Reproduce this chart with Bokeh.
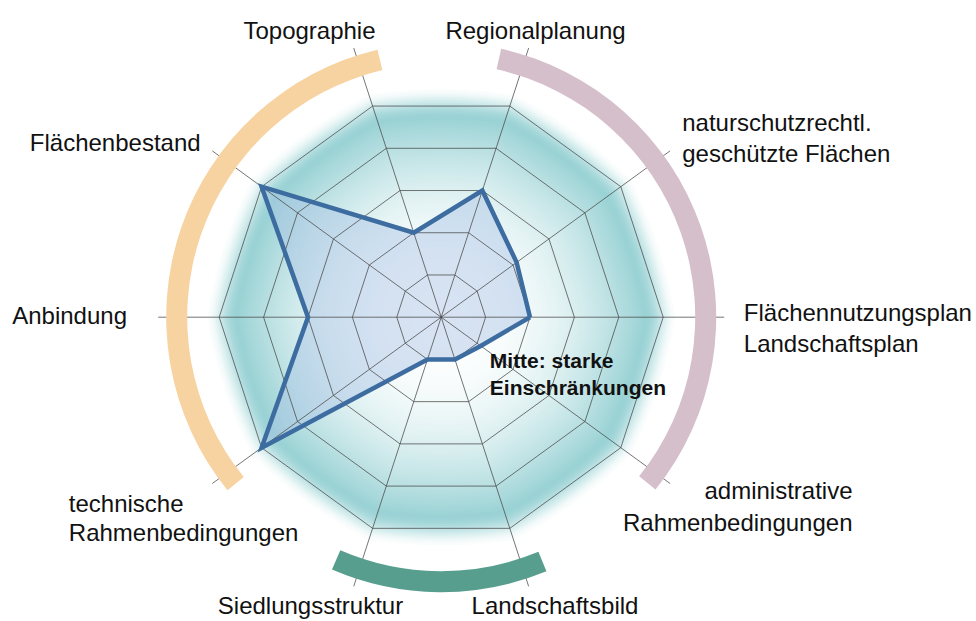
import numpy as np
from bokeh.plotting import figure
from bokeh.models import Range1d
from bokeh.embed import file_html
from bokeh.resources import INLINE
from bokeh.core.properties import value

# ---------------- data ----------------
categories = ["Flächennutzungsplan / Landschaftsplan", "naturschutzrechtl. geschützte Flächen",
              "Regionalplanung", "Topographie", "Flächenbestand", "Anbindung",
              "technische Rahmenbedingungen", "Siedlungsstruktur", "Landschaftsbild",
              "administrative Rahmenbedingungen"]
axis_angles_deg = [0, 36, 72, 108, 144, 180, 216, 252, 288, 324]
values = [2.0, 2.1, 3.0, 2.0, 5.0, 3.0, 5.0, 1.0, 1.0, 1.1]
levels = [1, 2, 3, 4, 5]
max_level = 5

# group arcs (start/end angle in degrees)
group_names = ["Standort", "Planung", "Umfeld"]
group_start = [103.4, -38.8, -113.4]
group_end = [219.0, 77.4, -67.5]
group_colors = ["#F8D3A2", "#D4BFCB", "#579E8F"]

# label texts (lines)
label_lines = [
    ["Flächennutzungsplan", "Landschaftsplan"],
    ["naturschutzrechtl.", "geschützte Flächen"],
    ["Regionalplanung"],
    ["Topographie"],
    ["Flächenbestand"],
    ["Anbindung"],
    ["technische", "Rahmenbedingungen"],
    ["Siedlungsstruktur"],
    ["Landschaftsbild"],
    ["administrative", "Rahmenbedingungen"],
]
center_note = ["Mitte: starke", "Einschränkungen"]

# ---------------- layout ----------------
W, H = 976, 621
CX, CY = 440.7, 316.7          # centre in page pixels
STEP = 44.4                     # radius per level (px)
SPOKE_LEN = 283
ARC_IN, ARC_OUT = 254, 275

# label anchors (x, first baseline, align, line gap)
label_layout = [
    (302.6, 5.0, "left", 31.6),
    (241.0, 194.4, "left", 31.0),
    (94.3, 286.7, "center", 0),
    (-131.7, 286.7, "center", 0),
    (-411.4, 175.0, "left", 0),
    (-429.0, 1.7, "left", 0),
    (-372.4, -186.6, "left", 28.4),
    (-130.7, -288.5, "center", 0),
    (113.8, -288.5, "center", 0),
    (411.3, -173.3, "right", 31.7),
]

p = figure(width=W, height=H, output_backend="svg", toolbar_location=None,
           x_range=Range1d(-CX, W - CX), y_range=Range1d(-(H - CY), CY),
           x_axis_type=None, y_axis_type=None, min_border=0,
           background_fill_color="white", border_fill_color="white")
p.outline_line_color = None
p.grid.visible = False

ang = np.radians(axis_angles_deg)

# ---- soft glow background (rounded decagons) ----
theta = np.linspace(0, 2 * np.pi, 361)
phi = (np.degrees(theta) % 36) - 18
shape = (np.cos(np.radians(18)) / np.cos(np.radians(phi))) ** 0.5
teal = np.array([154, 210, 213])
white = np.array([255, 255, 255])
xs, ys, cols = [], [], []
for R in np.arange(238, 0, -2.0):
    if R <= 205:
        f = (R / 205) ** 2.4
    else:
        f = 0.5 * (1 + np.cos(np.pi * (R - 205) / 33))
    c = white + (teal - white) * f
    xs.append(list(R * shape * np.cos(theta)))
    ys.append(list(R * shape * np.sin(theta)))
    cols.append("#%02x%02x%02x" % tuple(int(round(v)) for v in c))
p.patches(xs, ys, fill_color=cols, line_color=None)

# ---- data polygon fill ----
r_vals = np.array(values) * STEP
px = list(r_vals * np.cos(ang))
py = list(r_vals * np.sin(ang))
p.patch(px + [px[0]], py + [py[0]], fill_color="#a6c2e4", fill_alpha=0.45, line_color=None)

# ---- grid rings ----
for lv in levels:
    rr = lv * STEP
    gx = list(rr * np.cos(ang)) + [rr * np.cos(ang[0])]
    gy = list(rr * np.sin(ang)) + [rr * np.sin(ang[0])]
    p.line(gx, gy, line_color="#4a4a4a", line_width=0.9, line_alpha=0.85)

# ---- spokes ----
p.segment(x0=[0] * 10, y0=[0] * 10,
          x1=list(SPOKE_LEN * np.cos(ang)), y1=list(SPOKE_LEN * np.sin(ang)),
          line_color="#4a4a4a", line_width=0.9, line_alpha=0.85)

# ---- data outline ----
p.line(px + [px[0]], py + [py[0]], line_color="#3D6CA0", line_width=4.5, line_join="miter")

# ---- group arcs ----
p.annular_wedge(x=[0, 0, 0], y=[0, 0, 0], inner_radius=ARC_IN, outer_radius=ARC_OUT,
                start_angle=list(np.radians(group_start)), end_angle=list(np.radians(group_end)),
                fill_color=group_colors, line_color=None)

# ---- labels ----
tx, ty, tt, ta = [], [], [], []
for lines, (lx, ly, al, gap) in zip(label_lines, label_layout):
    for i, s in enumerate(lines):
        tx.append(lx); ty.append(ly - i * gap); tt.append(s); ta.append(al)
for al in ["left", "center", "right"]:
    idx = [i for i in range(len(tt)) if ta[i] == al]
    p.text(x=[tx[i] for i in idx], y=[ty[i] for i in idx], text=[tt[i] for i in idx],
           text_font=value("Liberation Sans"), text_font_size="24px",
           text_color="#111111", text_align=al, text_baseline="alphabetic")

p.text(x=[48.6, 48.6], y=[-43.3, -70.3], text=center_note,
       text_font=value("Liberation Sans"), text_font_size="21px", text_font_style="bold",
       text_color="#111111", text_align="left", text_baseline="alphabetic")

open("out.html", "w").write(file_html(p, INLINE))
